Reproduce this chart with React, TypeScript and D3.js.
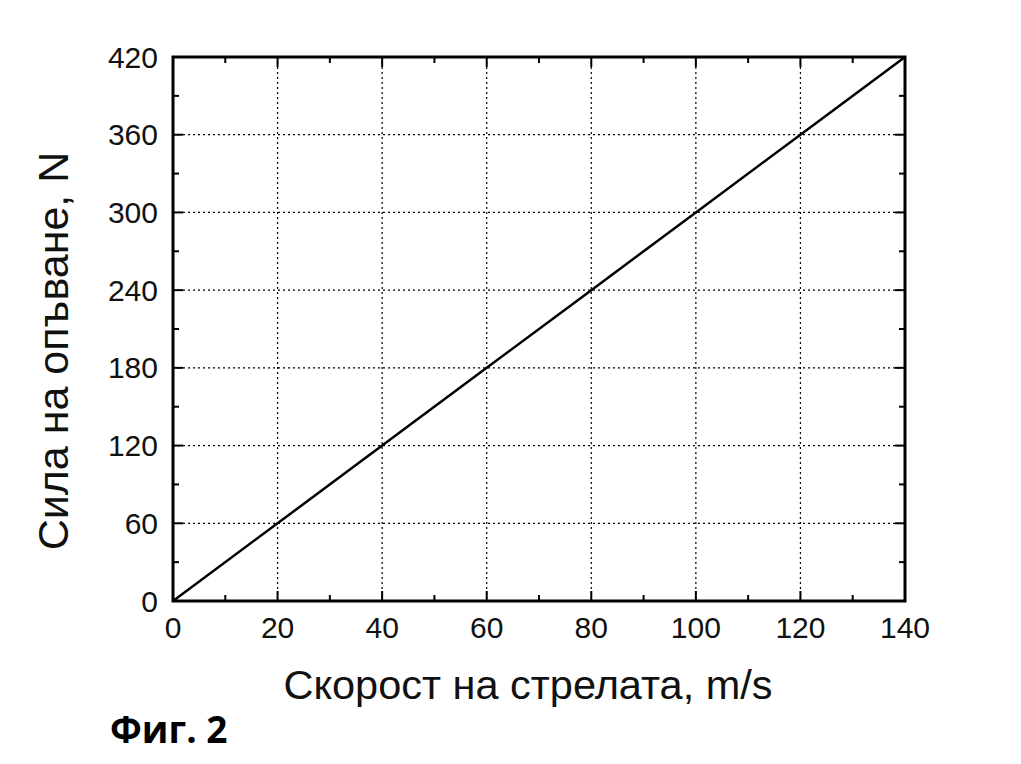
import * as d3 from "d3";

// data
const speed = [0, 20, 40, 60, 80, 100, 120, 140];
const force = [0, 60, 120, 180, 240, 300, 360, 420];
const xTicks = [0, 20, 40, 60, 80, 100, 120, 140];
const yTicks = [0, 60, 120, 180, 240, 300, 360, 420];
const xMinor = [10, 30, 50, 70, 90, 110, 130];
const yMinor = [30, 90, 150, 210, 270, 330, 390];

const W = 1021;
const H = 764;
const left = 173;
const right = 905;
const top = 57;
const bottom = 601;

export default function App() {
  const x = d3.scaleLinear().domain([0, 140]).range([left, right]);
  const y = d3.scaleLinear().domain([0, 420]).range([bottom, top]);
  const pts = speed.map((s, i) => [s, force[i]] as [number, number]);
  const line = d3.line<[number, number]>().x(d => x(d[0])).y(d => y(d[1]));
  const font = "Arial, 'Liberation Sans', sans-serif";
  const major = 10;
  const minor = 6;

  return (
    <svg width={W} height={H} style={{ position: "absolute", left: 0, top: 0 }}>
      <rect width={W} height={H} fill="#fff" />
      {/* grid */}
      {xTicks.slice(1, -1).map(t => (
        <line key={"gx" + t} x1={x(t)} x2={x(t)} y1={top} y2={bottom} stroke="#000" strokeWidth={1.2} strokeDasharray="2,3" />
      ))}
      {yTicks.slice(1, -1).map(t => (
        <line key={"gy" + t} x1={left} x2={right} y1={y(t)} y2={y(t)} stroke="#000" strokeWidth={1.2} strokeDasharray="2,3" />
      ))}
      {/* ticks on all four sides, pointing inward */}
      {xTicks.map(t => (
        <g key={"tx" + t}>
          <line x1={x(t)} x2={x(t)} y1={bottom} y2={bottom - major} stroke="#000" strokeWidth={2} />
          <line x1={x(t)} x2={x(t)} y1={top} y2={top + major} stroke="#000" strokeWidth={2} />
        </g>
      ))}
      {xMinor.map(t => (
        <g key={"mx" + t}>
          <line x1={x(t)} x2={x(t)} y1={bottom} y2={bottom - minor} stroke="#000" strokeWidth={2} />
          <line x1={x(t)} x2={x(t)} y1={top} y2={top + minor} stroke="#000" strokeWidth={2} />
        </g>
      ))}
      {yTicks.map(t => (
        <g key={"ty" + t}>
          <line x1={left} x2={left + major} y1={y(t)} y2={y(t)} stroke="#000" strokeWidth={2} />
          <line x1={right} x2={right - major} y1={y(t)} y2={y(t)} stroke="#000" strokeWidth={2} />
        </g>
      ))}
      {yMinor.map(t => (
        <g key={"my" + t}>
          <line x1={left} x2={left + minor} y1={y(t)} y2={y(t)} stroke="#000" strokeWidth={2} />
          <line x1={right} x2={right - minor} y1={y(t)} y2={y(t)} stroke="#000" strokeWidth={2} />
        </g>
      ))}
      <path d={line(pts) ?? ""} fill="none" stroke="#000" strokeWidth={2.5} />
      <rect x={left} y={top} width={right - left} height={bottom - top} fill="none" stroke="#000" strokeWidth={3} />
      {/* tick labels */}
      {xTicks.map(t => (
        <text key={"lx" + t} x={x(t)} y={638} textAnchor="middle" fontFamily={font} fontSize={30} fill="#111">{t}</text>
      ))}
      {yTicks.map(t => (
        <text key={"ly" + t} x={158} y={y(t) + 10.5} textAnchor="end" fontFamily={font} fontSize={30} fill="#111">{t}</text>
      ))}
      <text x={528} y={699} textAnchor="middle" fontFamily={font} fontSize={41.5} fill="#111">Скорост на стрелата, m/s</text>
      <text transform="translate(68,351) rotate(-90)" textAnchor="middle" fontFamily={font} fontSize={43} fill="#111">Сила на опъване, N</text>
      <text x={110} y={743} fontFamily="'Open Sans', sans-serif" fontWeight={700} fontSize={37} fill="#000">Фиг. 2</text>
    </svg>
  );
}
